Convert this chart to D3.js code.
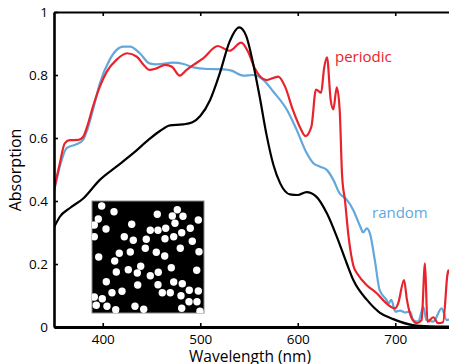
<!DOCTYPE html>
<html><head><meta charset="utf-8">
<script src="https://cdn.jsdelivr.net/npm/d3@7"></script>
<style>body{margin:0;background:#fff} svg{display:block} text{font-family:"Open Sans",sans-serif}</style>
</head><body><svg id="c" width="449" height="364"></svg>
<script>
const xTicks = [400, 500, 600, 700];
const yTicks = [0, 0.2, 0.4, 0.6, 0.8, 1];
const yTickLabels = ["0", "0.2", "0.4", "0.6", "0.8", "1"];

// reference (black, unpatterned)
const reference = [[350,0.316],[356,0.35],[366,0.377],[380,0.408],[397,0.467],[414,0.509],[431,0.551],[448,0.597],[459,0.623],[469,0.640],[482,0.643],[492,0.650],[500,0.670],[510,0.72],[520,0.805],[530,0.905],[540,0.951],[547,0.925],[554,0.84],[561,0.73],[568,0.61],[575,0.515],[582,0.456],[592,0.421],[600,0.419],[609,0.428],[619,0.414],[630,0.36],[640,0.287],[650,0.204],[657,0.149],[671,0.086],[684,0.046],[698,0.025],[718,0.006],[735,0.002],[760,0.001]];

const random = [[350,0.43],[356,0.51],[363,0.568],[373,0.58],[380,0.595],[384,0.625],[390,0.69],[397,0.773],[407,0.848],[414,0.879],[421,0.890],[428,0.890],[438,0.869],[448,0.837],[455,0.834],[472,0.839],[483,0.835],[493,0.824],[507,0.819],[524,0.818],[532,0.814],[544,0.798],[554,0.80],[565,0.784],[575,0.747],[589,0.689],[599,0.625],[609,0.553],[616,0.52],[623,0.509],[630,0.498],[636.5,0.467],[643,0.424],[650,0.405],[657,0.371],[664,0.32],[667,0.300],[670.7,0.313],[674,0.297],[679,0.213],[684,0.117],[691,0.086],[693,0.075],[696,0.086],[700,0.049],[705,0.052],[710,0.046],[715,0.049],[718.5,0.022],[723.6,0.017],[728.8,0.064],[732,0.022],[739,0.017],[747.6,0.059],[752.8,0.022],[760,0.03]];

const periodic = [[350,0.435],[356,0.52],[361,0.583],[366,0.593],[375,0.594],[380,0.604],[384,0.636],[390,0.70],[397,0.763],[404,0.81],[414,0.848],[425,0.869],[435,0.858],[442,0.832],[448,0.816],[455,0.821],[464,0.832],[471,0.826],[479,0.798],[486,0.816],[493,0.832],[503,0.853],[518,0.892],[530,0.877],[542,0.903],[549,0.874],[556,0.821],[568,0.784],[580,0.795],[587,0.763],[595,0.689],[602,0.636],[608,0.606],[614,0.636],[618.7,0.754],[624,0.744],[627,0.821],[630,0.856],[633.8,0.72],[636.5,0.691],[640,0.761],[643,0.689],[645.5,0.48],[648.5,0.40],[652,0.29],[657,0.195],[662,0.165],[670,0.135],[681,0.107],[691,0.075],[700,0.059],[703,0.075],[709,0.149],[712,0.086],[717,0.027],[722,0.012],[727,0.022],[730.5,0.202],[733,0.017],[739,0.031],[744,0.012],[749,0.015],[754.4,0.18],[760,0.02]];

// inset particle positions (arbitrary units, 0-112 square)
const particles = [[9.7,5],[22,10.7],[6.3,18],[2.3,24],[14,28],[39.7,23.3],[65.3,13.3],[85.3,8.7],[80.3,15],[91,15.3],[83,22.3],[106.3,19],[98.3,27.3],[73.7,27.3],[66,29.3],[58.3,29.3],[89.7,31.7],[2.3,35.7],[32.3,35.7],[41.3,39.3],[54.3,38.3],[73,37.7],[81.7,35.7],[100.3,40.3],[53.3,47.3],[88.3,47.3],[64.3,51.3],[107,50.7],[72.7,55],[6.7,56],[27.3,52.3],[38.3,51],[22.7,60],[48.7,65.3],[36.3,68.7],[45.3,72],[24.3,71],[66.3,71.3],[79.3,66.7],[104.7,69.3],[58.3,74.7],[14.3,80.7],[45.7,84],[66,83.7],[81.7,81],[90.3,82.7],[97.3,89.3],[106.3,90],[20,91.7],[30,90.3],[70.3,91.7],[78.3,91.7],[89,94.7],[2.3,96],[10.3,97.7],[97,100.7],[105,100.7],[4.3,104.3],[15,105.3],[23.7,108.7],[43,105.3],[51.7,108.3],[89.7,107.3],[108,110.3]];

const svg = d3.select("#c");
const x = d3.scaleLinear().domain([350, 760]).range([54, 453.75]);
const y = d3.scaleLinear().domain([0, 1]).range([327, 12]);

svg.append("defs").append("clipPath").attr("id","plotclip")
  .append("rect").attr("x",54).attr("y",0).attr("width",400).attr("height",327);

const line = d3.line().x(d => x(d[0])).y(d => y(d[1])).curve(d3.curveMonotoneX);
const lines = svg.append("g").attr("clip-path","url(#plotclip)");
lines.append("path").datum(random).attr("d", line).attr("fill","none").attr("stroke","#62a8dc").attr("stroke-width",2.2);
lines.append("path").datum(periodic).attr("d", line).attr("fill","none").attr("stroke","#e8232b").attr("stroke-width",2.2);
lines.append("path").datum(reference).attr("d", line).attr("fill","none").attr("stroke","#000").attr("stroke-width",2.2);

// inset
const ix = d3.scaleLinear().domain([0,112]).range([92,204]);
const iy = d3.scaleLinear().domain([0,112]).range([201,313]);
const defs = svg.select("defs");
defs.append("clipPath").attr("id","insetclip").append("rect")
  .attr("x",ix(0)).attr("y",iy(0)).attr("width",ix(112)-ix(0)).attr("height",iy(112)-iy(0));
svg.append("rect").attr("x",ix(0)).attr("y",iy(0)).attr("width",ix(112)-ix(0)).attr("height",iy(112)-iy(0))
  .attr("fill","#000").attr("stroke","#8a8a8a").attr("stroke-width",1);
svg.append("g").attr("clip-path","url(#insetclip)").selectAll("circle").data(particles).join("circle")
  .attr("cx", d => ix(d[0])).attr("cy", d => iy(d[1])).attr("r",3.7).attr("fill","#fff");

// axes
function styleAxis(g, w){
  g.select(".domain").attr("stroke","#000").attr("stroke-width",w);
  g.selectAll(".tick line").attr("stroke","#000").attr("stroke-width",1.6);
  g.selectAll(".tick text").attr("fill","#000").style("font-size","13.5px").style("font-family","'Open Sans',sans-serif");
}
svg.append("g").attr("transform","translate(0,327)")
  .call(d3.axisBottom(x).tickValues(xTicks).tickSize(-4).tickSizeOuter(0).tickPadding(7).tickFormat(d3.format("d")))
  .call(g => styleAxis(g, 3));
svg.append("g").attr("transform","translate(0,12)")
  .call(d3.axisTop(x).tickValues(xTicks).tickSize(-4).tickSizeOuter(0).tickFormat(""))
  .call(g => styleAxis(g, 2));
svg.append("g").attr("transform","translate(54,0)")
  .call(d3.axisLeft(y).tickValues(yTicks).tickSize(-4).tickSizeOuter(0).tickPadding(6).tickFormat((d,i) => yTickLabels[i]))
  .call(g => styleAxis(g, 2.6));

svg.append("text").attr("x",250).attr("y",361.5).attr("text-anchor","middle")
  .style("font-size","15.5px").attr("fill","#000").text("Wavelength (nm)");
svg.append("text").attr("transform","translate(21,170) rotate(-90)").attr("text-anchor","middle")
  .style("font-size","16px").attr("fill","#000").text("Absorption");

svg.append("text").attr("x",335).attr("y",62).style("font-size","15px").attr("fill","#e8232b").text("periodic");
svg.append("text").attr("x",372).attr("y",218).style("font-size","15px").attr("fill","#62a8dc").text("random");
</script></body></html>
